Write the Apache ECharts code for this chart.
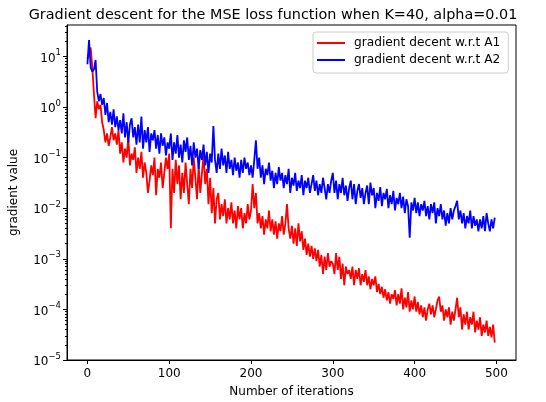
<!DOCTYPE html>
<html>
<head>
<meta charset="utf-8">
<script src="https://cdn.jsdelivr.net/npm/echarts@6/dist/echarts.min.js"></script>
<style>html,body{margin:0;padding:0;background:#fff}#c{width:546px;height:402px}</style>
</head>
<body>
<div id="c"></div>
<script>
// Sampled every 2 iterations (0, 2, 4, ... 498)
const iterStep = 2;
const gradA1 = [
  9, 12, 15, 6, 1.8, 0.6, 1.3, 0.9, 1.1, 0.5,
  0.35, 0.2, 0.3, 0.17, 0.25, 0.4, 0.22, 0.3, 0.18, 0.35,
  0.12, 0.2, 0.08, 0.15, 0.1, 0.25, 0.07, 0.12, 0.09, 0.16,
  0.05, 0.1, 0.06, 0.13, 0.04, 0.08, 0.05, 0.02, 0.035, 0.07,
  0.045, 0.1, 0.018, 0.06, 0.04, 0.08, 0.025, 0.05, 0.1, 0.06,
  0.12, 0.004, 0.06, 0.02, 0.09, 0.03, 0.07, 0.015, 0.05, 0.02,
  0.08, 0.03, 0.012, 0.06, 0.025, 0.1, 0.04, 0.015, 0.07, 0.02,
  0.05, 0.11, 0.03, 0.06, 0.012, 0.04, 0.008, 0.025, 0.005, 0.015,
  0.02, 0.006, 0.012, 0.007, 0.015, 0.005, 0.01, 0.006, 0.013, 0.005,
  0.009, 0.004, 0.011, 0.006, 0.01, 0.004, 0.008, 0.005, 0.012, 0.006,
  0.009, 0.03, 0.01, 0.02, 0.005, 0.008, 0.004, 0.007, 0.003, 0.006,
  0.004, 0.009, 0.0035, 0.006, 0.003, 0.0055, 0.0025, 0.005, 0.0035, 0.007,
  0.003, 0.005, 0.012, 0.004, 0.0025, 0.0045, 0.002, 0.004, 0.0018, 0.005,
  0.0022, 0.0035, 0.0015, 0.0025, 0.0012, 0.002, 0.0011, 0.0018, 0.001, 0.0016,
  0.0009, 0.0015, 0.0007, 0.0012, 0.0005, 0.0011, 0.0006, 0.0013, 0.0007, 0.0009,
  0.0008, 0.0005, 0.0013, 0.0006, 0.0011, 0.0004, 0.0008, 0.0003, 0.0007, 0.0005,
  0.0006, 0.0004, 0.0007, 0.0003, 0.0006, 0.0004, 0.00065, 0.0003, 0.0005, 0.00035,
  0.0006, 0.0003, 0.00045, 0.00025, 0.0004, 0.0003, 0.00045, 0.00022, 0.00032, 0.0002,
  0.00028, 0.00017, 0.00025, 0.00015, 0.00022, 0.00013, 0.0002, 0.00016, 0.00024, 0.00012,
  0.0002, 0.00013, 0.00026, 0.0001, 0.00017, 0.00011, 0.00022, 0.00009, 0.00015, 0.0001,
  0.00018, 0.00009, 0.00014, 0.00008, 0.00012, 0.00007, 0.00011, 0.00006, 0.0001, 0.00013,
  0.00008, 0.00012, 0.00007, 0.0001, 0.00015, 0.00018, 0.00009, 0.00012, 0.00006, 0.0001,
  0.00007, 0.00011, 0.00005, 0.00009, 0.00006, 0.0001, 0.00017, 0.00007, 0.00011, 0.00004,
  0.00008, 0.00005, 0.00009, 0.00004, 0.00007, 0.00005, 0.00009, 0.000035, 0.00006, 0.00004,
  0.00007, 0.00003, 0.00005, 0.000035, 0.00006, 0.00003, 0.000045, 0.000028, 0.00005, 0.000022
];
const gradA2 = [
  7, 21, 6, 5, 5.5, 8.5, 2, 1.3, 1.8, 1.1,
  1.5, 0.7, 1.2, 0.5, 0.8, 0.45, 0.9, 0.4, 0.65, 0.35,
  0.55, 0.3, 0.75, 0.25, 0.5, 0.2, 0.45, 0.6, 0.25, 0.4,
  0.18, 0.45, 0.2, 0.65, 0.15, 0.35, 0.2, 0.4, 0.13, 0.3,
  0.22, 0.35, 0.15, 0.28, 0.12, 0.3, 0.17, 0.25, 0.11, 0.2,
  0.15, 0.3, 0.09, 0.2, 0.12, 0.28, 0.1, 0.18, 0.08, 0.22,
  0.13, 0.25, 0.09, 0.17, 0.07, 0.2, 0.1, 0.15, 0.06, 0.14,
  0.09, 0.18, 0.07, 0.13, 0.05, 0.12, 0.08, 0.42, 0.09, 0.05,
  0.12, 0.06, 0.15, 0.07, 0.11, 0.05, 0.13, 0.06, 0.09, 0.045,
  0.1, 0.055, 0.08, 0.04, 0.09, 0.05, 0.1, 0.06, 0.08, 0.045,
  0.07, 0.04, 0.09, 0.22, 0.06, 0.1, 0.04, 0.07, 0.03, 0.06,
  0.045, 0.08, 0.035, 0.055, 0.025, 0.05, 0.03, 0.065, 0.035, 0.05,
  0.025, 0.045, 0.03, 0.06, 0.02, 0.04, 0.028, 0.05, 0.022, 0.035,
  0.025, 0.045, 0.018, 0.035, 0.025, 0.04, 0.02, 0.03, 0.045, 0.022,
  0.035, 0.018, 0.03, 0.02, 0.04, 0.025, 0.015, 0.03, 0.02, 0.035,
  0.05, 0.02, 0.035, 0.015, 0.03, 0.02, 0.04, 0.018, 0.028, 0.014,
  0.025, 0.035, 0.015, 0.03, 0.012, 0.022, 0.03, 0.016, 0.025, 0.012,
  0.02, 0.028, 0.012, 0.032, 0.018, 0.025, 0.01, 0.02, 0.014, 0.026,
  0.011, 0.02, 0.015, 0.024, 0.01, 0.018, 0.012, 0.022, 0.009, 0.016,
  0.012, 0.02, 0.01, 0.017, 0.008, 0.015, 0.011, 0.0026, 0.013, 0.009,
  0.016, 0.008, 0.013, 0.007, 0.012, 0.009, 0.014, 0.007, 0.011, 0.006,
  0.012, 0.008, 0.013, 0.005, 0.01, 0.007, 0.012, 0.006, 0.009, 0.0045,
  0.008, 0.005, 0.01, 0.006, 0.009, 0.011, 0.014, 0.006, 0.009, 0.005,
  0.008, 0.004, 0.007, 0.005, 0.009, 0.004, 0.007, 0.0045, 0.006, 0.0035,
  0.006, 0.004, 0.007, 0.0035, 0.008, 0.005, 0.0035, 0.006, 0.004, 0.0065
];
const seriesNames = ['gradient decent w.r.t A1', 'gradient decent w.r.t A2'];
const xTickValues = [0, 100, 200, 300, 400, 500];
const yTickValues = [1e-5, 1e-4, 1e-3, 1e-2, 1e-1, 1, 10];
const titleText = 'Gradient descent for the MSE loss function when K=40, alpha=0.01';
const xName = 'Number of iterations';
const yName = 'gradient value';

const yMinorTicks = [];
for (let e = -5; e <= 1; e++) {
  for (let m = 2; m <= 9; m++) {
    const v = m * Math.pow(10, e);
    if (v < 41.7) yMinorTicks.push(v);
  }
}
const toPairs = arr => arr.map((v, k) => [k * iterStep, v]);
const FONT = 'DejaVu Sans';

const chart = echarts.init(document.getElementById('c'), null, {renderer: 'canvas'});
chart.setOption({
  animation: false,
  backgroundColor: '#ffffff',
  textStyle: {fontFamily: FONT},
  title: {
    text: titleText, left: 'center', top: 3,
    textStyle: {fontFamily: FONT, fontSize: 14.4, fontWeight: 'normal', color: '#000'}
  },
  grid: {left: 67, right: 30, top: 25, bottom: 42, show: true, borderColor: '#000', borderWidth: 1, outerBoundsMode: 'none', containLabel: false},
  legend: {
    orient: 'vertical', left: 313, top: 32,
    data: seriesNames,
    icon: 'rect', itemWidth: 28, itemHeight: 2, itemGap: 5,
    padding: [5, 8, 7, 4],
    borderColor: '#cccccc', borderWidth: 1, borderRadius: 3,
    backgroundColor: 'rgba(255,255,255,0.8)',
    textStyle: {fontFamily: FONT, fontSize: 12.2, color: '#000', padding: [0, 0, 0, 4]}
  },
  xAxis: {
    type: 'value', min: -24.95, max: 523.95,
    name: xName, nameLocation: 'middle', nameGap: 26, nameMoveOverlap: false,
    nameTextStyle: {fontFamily: FONT, fontSize: 12, color: '#000'},
    axisLine: {show: true, onZero: false, lineStyle: {color: '#000', width: 1}},
    axisTick: {show: true, length: 4, customValues: xTickValues, lineStyle: {color: '#000'}},
    axisLabel: {customValues: xTickValues, margin: 8, fontFamily: FONT, fontSize: 12, color: '#000'},
    splitLine: {show: false}
  },
  yAxis: [{
    type: 'log', logBase: 10, min: 1e-5, max: 41.7,
    name: yName, nameLocation: 'middle', nameGap: 47, nameMoveOverlap: false,
    nameTextStyle: {fontFamily: FONT, fontSize: 12, color: '#000'},
    axisLine: {show: true, onZero: false, lineStyle: {color: '#000', width: 1}},
    axisTick: {show: true, length: 4, customValues: yTickValues, lineStyle: {color: '#000'}},
    axisLabel: {
      customValues: yTickValues, margin: 6, color: '#000',
      formatter: function (v) {
        const e = Math.round(Math.log10(v));
        return '{b|10}{s|' + (e < 0 ? '\u2212' + (-e) : String(e)) + '}';
      },
      rich: {
        b: {fontFamily: FONT, fontSize: 12, color: '#000', lineHeight: 16, verticalAlign: 'bottom'},
        s: {fontFamily: FONT, fontSize: 8.5, color: '#000', lineHeight: 10, verticalAlign: 'top'}
      }
    },
    splitLine: {show: false},
    minorTick: {show: false}
  }, {
    type: 'log', logBase: 10, min: 1e-5, max: 41.7, position: 'left',
    axisLine: {show: false, onZero: false},
    axisTick: {show: true, length: 2, customValues: yMinorTicks, lineStyle: {color: '#000'}},
    axisLabel: {show: false},
    splitLine: {show: false}
  }],
  series: [{
    name: seriesNames[0], type: 'line', data: toPairs(gradA1), yAxisIndex: 0,
    symbol: 'none', lineStyle: {color: '#ff0000', width: 1.8}, itemStyle: {color: '#ff0000'}
  }, {
    name: seriesNames[1], type: 'line', data: toPairs(gradA2), yAxisIndex: 0,
    symbol: 'none', lineStyle: {color: '#0000ff', width: 1.8}, itemStyle: {color: '#0000ff'}
  }]
});
</script>
</body>
</html>
